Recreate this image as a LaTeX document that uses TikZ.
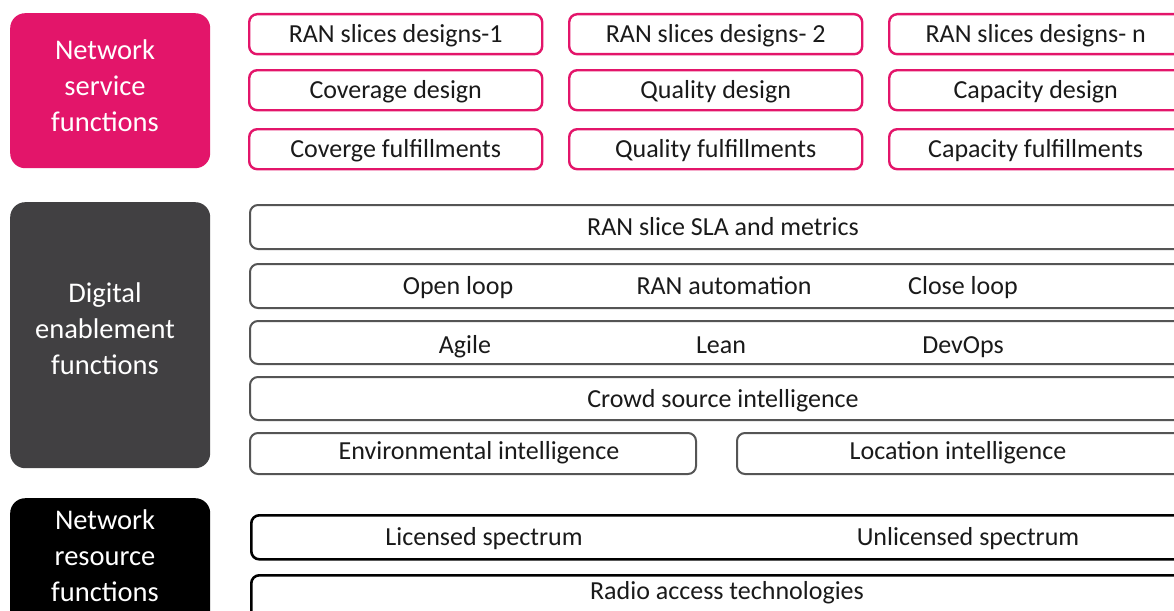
\documentclass[tikz,border=0pt]{standalone}
\usepackage{fontspec}
\setmainfont{Carlito}
\definecolor{nspink}{HTML}{E3156A}
\definecolor{degray}{HTML}{414042}
\definecolor{olgray}{HTML}{555555}
\definecolor{txt}{HTML}{1A1A1A}
\begin{document}
\begin{tikzpicture}[x=1pt,y=-1pt,
  leftbox/.style={rounded corners=15pt, minimum width=200pt, inner sep=0pt, anchor=north west, text=white,
    font=\fontsize{28.5}{36}\selectfont, align=center},
  lefttxt/.style={text=white, font=\fontsize{28.5}{36}\selectfont, align=center, inner sep=0pt},
  pbox/.style={draw=nspink, line width=2.4pt, fill=white, rounded corners=8pt, minimum height=40pt, minimum width=293pt,
    inner sep=0pt, anchor=north west, text=txt, font=\fontsize{26}{30}\selectfont, text height=20pt, text depth=3pt},
  gbox/.style={draw=olgray, line width=2pt, fill=white, rounded corners=8pt, minimum height=43pt,
    inner sep=0pt, anchor=north west, text=txt, font=\fontsize{26}{30}\selectfont, text height=20pt, text depth=3pt},
  kbox/.style={draw=black, line width=2.6pt, fill=white, rounded corners=8pt, minimum height=44pt,
    inner sep=0pt, anchor=north west, text=txt, font=\fontsize{26}{30}\selectfont, text height=20pt, text depth=3pt},
  lbl/.style={inner sep=0pt, text=txt, font=\fontsize{26}{30}\selectfont, text height=20pt, text depth=3pt}
]
\useasboundingbox (0,0) rectangle (1174,610);
\clip (0,0) rectangle (1174,610);
\fill[white] (0,0) rectangle (1174,610);

% left category boxes
\node[leftbox, fill=nspink, minimum height=155pt] (nsf) at (10,13) {};
\node[lefttxt] (nsft) at (105,86) {Network\\service\\functions};
\node[leftbox, fill=degray, minimum height=266pt] (def) at (10,202) {};
\node[lefttxt] (deft) at (105,328.5) {Digital\\enablement\\functions};
\node[leftbox, fill=black, minimum height=160pt] (nrf) at (10,498) {};
\node[lefttxt] (nrft) at (105,555.5) {Network\\resource\\functions};

% network service functions
\node[pbox] (p11) at (248,13) {RAN slices designs-1};
\node[pbox] (p12) at (568,13) {RAN slices designs- 2};
\node[pbox] (p13) at (888,13) {RAN slices designs- n};
\node[pbox] (p21) at (248,69) {Coverage design};
\node[pbox] (p22) at (568,69) {Quality design};
\node[pbox] (p23) at (888,69) {Capacity design};
\node[pbox] (p31) at (248,128) {Coverge fulfillments};
\node[pbox] (p32) at (568,128) {Quality fulfillments};
\node[pbox] (p33) at (888,128) {Capacity fulfillments};

% digital enablement functions
\node[gbox, minimum width=946pt, minimum height=44pt] (g1) at (249,204) {RAN slice SLA and metrics};
\node[gbox, minimum width=946pt, minimum height=44pt] (g2) at (249,263) {};
\node[lbl] (g2a) at (458,286) {Open loop};
\node[lbl] (g2b) at (724,286) {RAN automation};
\node[lbl] (g2c) at (963,286) {Close loop};
\node[gbox, minimum width=946pt] (g3) at (249,320) {};
\node[lbl] (g3a) at (465,345) {Agile};
\node[lbl] (g3b) at (721,345) {Lean};
\node[lbl] (g3c) at (963,345) {DevOps};
\node[gbox, minimum width=946pt] (g4) at (249,376) {Crowd source intelligence};
\node[gbox, minimum width=446pt, minimum height=41pt] (g5a) at (249,432) {};
\node[lbl] (g5at) at (479,451) {Environmental intelligence};
\node[gbox, minimum width=450pt, minimum height=41pt] (g5b) at (736,432) {};
\node[lbl] (g5bt) at (958,451) {Location intelligence};

% network resource functions
\node[kbox, minimum width=946pt] (k1) at (250,514) {};
\node[lbl] (k1a) at (484,537) {Licensed spectrum};
\node[lbl] (k1b) at (968,537) {Unlicensed spectrum};
\node[kbox, minimum width=946pt, minimum height=50pt] (k2) at (250,574) {};
\node[lbl] (k2t) at (727,591) {Radio access technologies};
\end{tikzpicture}
\end{document}
